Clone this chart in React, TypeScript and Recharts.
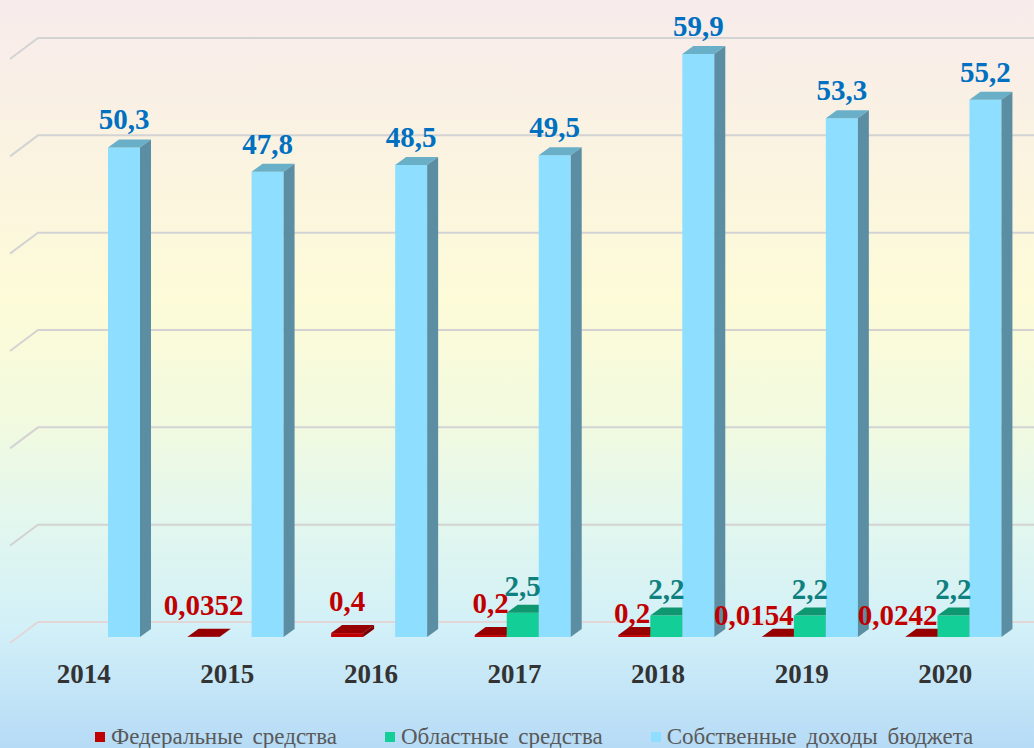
import React from 'react';
import { BarChart, Bar, XAxis, YAxis, CartesianGrid, LabelList, Legend } from 'recharts';

const years = ['2014', '2015', '2016', '2017', '2018', '2019', '2020'];
const federal = [null, 0.0352, 0.4, 0.2, 0.2, 0.0154, 0.0242];
const regional = [null, null, null, 2.5, 2.2, 2.2, 2.2];
const own = [50.3, 47.8, 48.5, 49.5, 59.9, 53.3, 55.2];
const yTicks = [0, 10, 20, 30, 40, 50, 60];
const seriesNames = ['Федеральные средства', 'Областные средства', 'Собственные доходы бюджета'];

const data = years.map((year, i) => ({
  year,
  federal: federal[i],
  regional: regional[i],
  own: own[i],
}));

const FONT = "'Times New Roman', 'Liberation Serif', serif";
const DX = 11;
const DY = 8;

const COLORS = {
  federal: { front: '#C00000', top: '#960000', side: '#7A0000', label: '#C00000' },
  regional: { front: '#13CF97', top: '#0F9770', side: '#0C7F5D', label: '#0E8080' },
  own: { front: '#8EDFFF', top: '#6AAFC8', side: '#5B8EA3', label: '#0070C0' },
};

const fmt = (v: any) => String(v).replace('.', ',');

function makeBox(c: { front: string; top: string; side: string }) {
  return (props: any) => {
    const { x, y, width, height } = props;
    if (x == null || y == null || height == null || isNaN(height)) return <g />;
    const h = Math.max(height, 0);
    const w = width;
    return (
      <g>
        <rect x={x} y={y} width={w} height={h} fill={c.front} />
        <polygon
          points={`${x},${y} ${x + DX},${y - DY} ${x + w + DX},${y - DY} ${x + w},${y}`}
          fill={c.top}
        />
        <polygon
          points={`${x + w},${y} ${x + w + DX},${y - DY} ${x + w + DX},${y + h - DY} ${x + w},${y + h}`}
          fill={c.side}
        />
      </g>
    );
  };
}

const FedLabel = (props: any) => {
  const { x, y, width, value, index } = props;
  if (value == null) return null;
  const hasGreen = regional[index] != null;
  return (
    <text
      x={hasGreen ? x + width : x + width / 2}
      y={hasGreen ? y - 12 : y - 22}
      textAnchor={hasGreen ? 'end' : 'middle'}
      fontFamily={FONT}
      fontWeight="bold"
      fontSize={29}
      fill={COLORS.federal.label}
    >
      {fmt(value)}
    </text>
  );
};

const makeTopLabel = (color: string, gap: number) => (props: any) => {
  const { x, y, width, value } = props;
  if (value == null) return null;
  return (
    <text
      x={x + width / 2}
      y={y - gap}
      textAnchor="middle"
      fontFamily={FONT}
      fontWeight="bold"
      fontSize={29}
      fill={color}
    >
      {fmt(value)}
    </text>
  );
};

const GridLine = (props: any) => {
  const { x1, y1, x2, index } = props;
  const yb = y1 - 15;
  return (
    <path
      key={props.key}
      d={`M${x1 - 10},${yb + 21} L${x1 + 18},${yb} L${x2 + 20},${yb}`}
      stroke={y1 > 630 ? '#E2D6D6' : '#D3D3D3'}
      strokeWidth={2}
      fill="none"
    />
  );
};

const YearTick = (props: any) => {
  const { x, y, payload } = props;
  return (
    <text
      x={x - 8}
      y={y}
      dy={38}
      textAnchor="middle"
      fontFamily={FONT}
      fontWeight="bold"
      fontSize={27}
      fill="#333333"
    >
      {payload.value}
    </text>
  );
};

const legendColors = [COLORS.federal.front, COLORS.regional.front, COLORS.own.front];

const LegendContent = () => (
  <div
    style={{
      display: 'flex',
      alignItems: 'center',
      paddingLeft: 95,
      height: 26,
      fontFamily: FONT,
      fontSize: 23,
      color: '#595959',
      wordSpacing: 4,
      whiteSpace: 'nowrap',
    }}
  >
    {seriesNames.map((n, i) => (
      <div key={n} style={{ display: 'flex', alignItems: 'center', marginRight: 48 }}>
        <span style={{ width: 10, height: 10, background: legendColors[i], marginRight: 6, display: 'inline-block' }} />
        <span>{n}</span>
      </div>
    ))}
  </div>
);

export default function App() {
  return (
    <div
      style={{
        position: 'absolute',
        left: 0,
        top: 0,
        width: 1034,
        height: 748,
        overflow: 'hidden',
        background:
          'linear-gradient(to bottom, #F8EBEC 0%, #FAF2E2 18%, #FDFBD8 40%, #F2FADF 56%, #E2F7EE 70%, #D2F0F8 84%, #B6DBF6 100%)',
      }}
    >
      <BarChart
        width={1034}
        height={748}
        data={data}
        margin={{ top: 53, right: 9, bottom: 0, left: 20 }}
        barGap={0}
        barSize={32}
      >
        <CartesianGrid horizontal={GridLine as any} vertical={false} />
        <XAxis dataKey="year" axisLine={false} tickLine={false} height={85} tick={<YearTick />} interval={0} />
        <YAxis hide domain={[0, 60]} ticks={yTicks} />
        <Legend
          verticalAlign="bottom"
          height={26}
          wrapperStyle={{ left: 0, width: 1034, bottom: -2 }}
          content={<LegendContent />}
        />
        <Bar dataKey="federal" name={seriesNames[0]} fill={COLORS.federal.front} shape={makeBox(COLORS.federal)} isAnimationActive={false}>
          <LabelList dataKey="federal" content={<FedLabel />} />
        </Bar>
        <Bar dataKey="regional" name={seriesNames[1]} fill={COLORS.regional.front} shape={makeBox(COLORS.regional)} isAnimationActive={false}>
          <LabelList dataKey="regional" content={makeTopLabel(COLORS.regional.label, 17)} />
        </Bar>
        <Bar dataKey="own" name={seriesNames[2]} fill={COLORS.own.front} shape={makeBox(COLORS.own)} isAnimationActive={false}>
          <LabelList dataKey="own" content={makeTopLabel(COLORS.own.label, 18)} />
        </Bar>
      </BarChart>
    </div>
  );
}
